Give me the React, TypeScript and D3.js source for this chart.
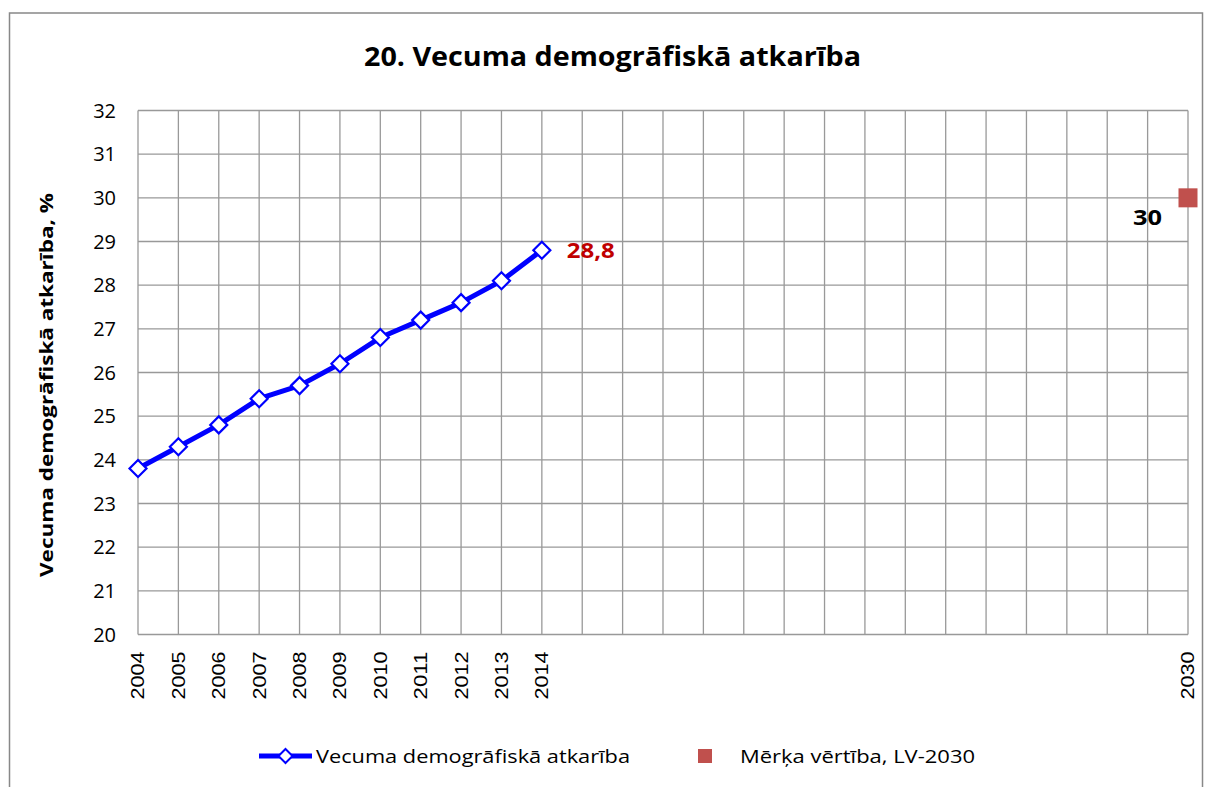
import React from "react";
import * as d3 from "d3";

const years: number[] = d3.range(2004, 2031);
const labeledYears: number[] = [2004, 2005, 2006, 2007, 2008, 2009, 2010, 2011, 2012, 2013, 2014, 2030];
const seriesYears: number[] = [2004, 2005, 2006, 2007, 2008, 2009, 2010, 2011, 2012, 2013, 2014];
const seriesValues: number[] = [23.8, 24.3, 24.8, 25.4, 25.7, 26.2, 26.8, 27.2, 27.6, 28.1, 28.8];
const targetYear = 2030;
const targetValue = 30;
const yTicks: number[] = d3.range(20, 33);

const W = 1205, H = 787;
const L = 138, R = 1188, T = 110.5, B = 634.5;
const FONT = "'Open Sans', Lato, sans-serif";

export default function App() {
  const x = d3.scaleLinear().domain([2004, 2030]).range([L, R]);
  const y = d3.scaleLinear().domain([20, 32]).range([B, T]);
  const line = d3.line<number>().x((_, i) => x(seriesYears[i])).y((d) => y(d));
  const diamond = (cx: number, cy: number, r: number) =>
    `M${cx},${cy - r}L${cx + r},${cy}L${cx},${cy + r}L${cx - r},${cy}Z`;
  const lastI = seriesValues.length - 1;
  return (
    <svg width={W} height={H} style={{ position: "absolute", left: 0, top: 0 }}>
      <rect x={0} y={0} width={W} height={H} fill="#fff" />
      <rect x={9.5} y={13} width={1193} height={780} fill="#fff" stroke="#888" strokeWidth={1.5} />
      <text x={364} y={66} textLength={497} lengthAdjust="spacingAndGlyphs" fontFamily={FONT} fontWeight="bold" fontSize={26} fill="#000">
        20. Vecuma demogrāfiskā atkarība
      </text>
      {/* grid */}
      {yTicks.map((t) => (
        <line key={"h" + t} x1={L} x2={R} y1={y(t)} y2={y(t)} stroke="#999" strokeWidth={1.3} />
      ))}
      {years.map((yr) => (
        <line key={"v" + yr} x1={x(yr)} x2={x(yr)} y1={T} y2={B} stroke="#999" strokeWidth={1.3} />
      ))}
      {/* y tick labels */}
      {yTicks.map((t) => (
        <text key={"yt" + t} x={116} y={y(t)} dy="0.36em" textAnchor="end" fontFamily={FONT} fontSize={20} fill="#000">
          {t}
        </text>
      ))}
      {/* x tick labels */}
      {labeledYears.map((yr) => (
        <text key={"xt" + yr} transform={`translate(${x(yr)},${B + 17}) rotate(-90)`} dy="0.36em" textAnchor="end"
          textLength={48} lengthAdjust="spacingAndGlyphs"
          x={-48} style={{ textAnchor: "start" }}
          fontFamily="'Liberation Sans', Arial, sans-serif" fontSize={18} fill="#000">
          {yr}
        </text>
      ))}
      {/* y axis title */}
      <text transform={`translate(53,577) rotate(-90)`} textLength={384} lengthAdjust="spacingAndGlyphs" fontFamily={FONT} fontWeight="bold" fontSize={18} fill="#000">
        Vecuma demogrāfiskā atkarība, %
      </text>
      {/* series */}
      <path d={line(seriesValues) || ""} fill="none" stroke="#0000FF" strokeWidth={5} strokeLinejoin="round" />
      {seriesValues.map((v, i) => (
        <path key={"m" + i} d={diamond(x(seriesYears[i]), y(v), 8.5)} fill="#fff" stroke="#0000FF" strokeWidth={2.2} />
      ))}
      <text x={x(seriesYears[lastI]) + 25} y={y(seriesValues[lastI])} dy="0.36em" textLength={48} lengthAdjust="spacingAndGlyphs" fontFamily={FONT} fontWeight="bold" fontSize={21} fill="#C00000">
        {String(seriesValues[lastI]).replace(".", ",")}
      </text>
      {/* target */}
      <rect x={x(targetYear) - 9.5} y={y(targetValue) - 9.5} width={19} height={19} fill="#C0504D" />
      <text x={x(targetYear) - 55} y={y(targetValue) + 27} textLength={29} lengthAdjust="spacingAndGlyphs" fontFamily={FONT} fontWeight="bold" fontSize={21} fill="#000">
        {targetValue}
      </text>
      {/* legend */}
      <line x1={259} x2={312} y1={756} y2={756} stroke="#0000FF" strokeWidth={5} />
      <path d={diamond(285.5, 756, 7)} fill="#fff" stroke="#0000FF" strokeWidth={2} />
      <text x={316} y={756} dy="0.36em" textLength={314} lengthAdjust="spacingAndGlyphs" fontFamily={FONT} fontSize={19} fill="#000">
        Vecuma demogrāfiskā atkarība
      </text>
      <rect x={698} y={749} width={14} height={14} fill="#C0504D" />
      <text x={740} y={756} dy="0.36em" textLength={235} lengthAdjust="spacingAndGlyphs" fontFamily={FONT} fontSize={19} fill="#000">
        Mērķa vērtība, LV-2030
      </text>
    </svg>
  );
}
